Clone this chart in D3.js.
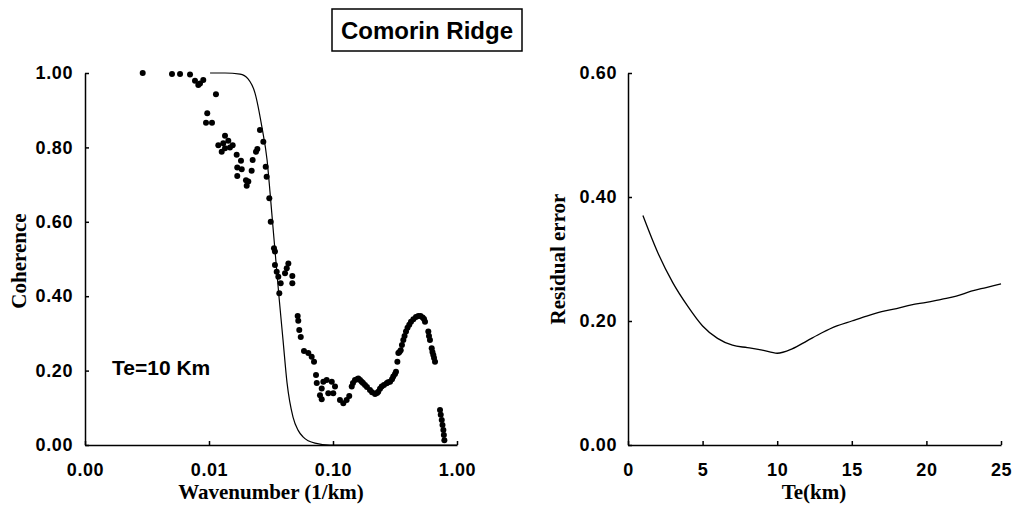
<!DOCTYPE html>
<html>
<head>
<meta charset="utf-8">
<script src="https://cdn.jsdelivr.net/npm/d3@7"></script>
<style>
html,body{margin:0;padding:0;background:#fff;}
svg{display:block;}
.tick text{font-family:"Liberation Sans",Arial,sans-serif;font-weight:bold;font-size:18px;letter-spacing:0.6px;fill:#000;}
.domain,.tick line{stroke:#000;stroke-width:1.5px;}
</style>
</head>
<body>
<svg id="chart" width="1016" height="507"></svg>
<script>
// ---- Left panel: observed coherence (wavenumber 1/km, coherence) ----
const obsK = [0.00292,0.00503,0.00584,0.00703,0.00771,0.00846,0.00899,0.00820,0.01138,0.00968,
  0.00946,0.01057,0.01346,0.01189,0.01303,0.01431,0.01552,0.01266,0.01346,0.01476,
  0.01672,0.01811,0.01690,0.01836,0.01690,0.01987,0.02075,0.02014,0.02250,0.02208,
  0.02393,0.02455,0.02576,0.02742,0.02866,0.02917,0.03064,0.03147,0.03343,0.03404,
  0.03404,0.03516,0.03622,0.03786,0.03690,0.04102,0.04236,0.04365,0.04699,0.04699,
  0.05190,0.05248,0.05346,0.05495,0.05834,0.06324,0.06730,0.07031,0.07295,0.07396,
  0.08356,0.08892,0.09772,0.1038,0.08110,0.07853,0.08110,0.09162,0.1005,0.1138,
  0.1211,0.1288,0.1352,0.1416,0.1504,0.1600,0.1703,0.1811,0.1986,0.2183,
  0.2317,0.2471,0.2711,0.2884,0.3063,0.3221,0.3304,0.3365,0.3516,0.3690,
  0.3878,0.4121,0.4446,0.4875,0.5284,0.5521,0.5869,0.6053,0.6252,0.6442,
  0.6650,0.7295,0.7534,0.7762,0.7907,
  0.1449,0.1563,0.1652,0.1746,0.1879,0.2065,0.2265,0.2393,0.2576,0.2779,
  0.2992,0.3162,0.3436,0.3597,0.3776,0.3990,0.4256,0.4667,0.5082,0.5420,
  0.5943,0.6339,0.6531,0.7396,0.7638,0.7834];
const obsCoh = [1.000,0.997,0.997,0.996,0.979,0.972,0.981,0.968,0.943,0.892,
  0.866,0.866,0.831,0.806,0.811,0.818,0.806,0.788,0.798,0.800,
  0.780,0.764,0.746,0.741,0.723,0.712,0.708,0.697,0.766,0.737,
  0.788,0.796,0.847,0.815,0.748,0.721,0.663,0.600,0.529,0.520,
  0.484,0.466,0.452,0.435,0.408,0.462,0.475,0.488,0.454,0.435,
  0.347,0.334,0.309,0.290,0.253,0.247,0.237,0.224,0.188,0.167,
  0.170,0.175,0.170,0.157,0.152,0.134,0.123,0.139,0.139,0.121,
  0.112,0.121,0.132,0.157,0.175,0.179,0.170,0.161,0.148,0.137,
  0.143,0.157,0.166,0.170,0.184,0.197,0.224,0.247,0.255,0.282,
  0.305,0.323,0.338,0.347,0.343,0.331,0.305,0.282,0.260,0.242,
  0.224,0.094,0.067,0.040,0.013,
  0.167,0.177,0.175,0.167,0.156,0.142,0.140,0.151,0.161,0.169,
  0.177,0.191,0.250,0.269,0.293,0.315,0.331,0.344,0.347,0.339,
  0.293,0.250,0.234,0.081,0.054,0.027];

// predicted coherence for Te = 10 km
const modelK   = [0.0102,0.01346,0.0178,0.02065,0.0235,0.0267,0.0294,0.0311,0.0328,0.03469,0.0367,0.03954,0.0426,0.0476,0.05222,0.0573,0.0716,0.0946,1.0];
const modelCoh = [1.000,1.000,0.997,0.984,0.946,0.855,0.766,0.677,0.586,0.492,0.398,0.282,0.167,0.075,0.040,0.022,0.005,0.000,0.000];

const leftXTicks = [0.001,0.01,0.1,1];
const leftXTickLabels = ["0.00","0.01","0.10","1.00"];
const leftYTicks = [0,0.2,0.4,0.6,0.8,1.0];

// ---- Right panel: residual error vs Te ----
const teValues = [1,2,3,4,5,6,7,8,9,10,11,12,13,14,15,16,17,18,19,20,21,22,23,24,25];
const residual = [0.370,0.310,0.262,0.224,0.192,0.172,0.161,0.157,0.153,0.148,0.155,0.168,0.181,0.192,0.200,0.208,0.215,0.220,0.226,0.230,0.235,0.240,0.248,0.254,0.260];
const rightXTicks = [0,5,10,15,20,25];
const rightYTicks = [0,0.2,0.4,0.6];

const svg = d3.select("#chart");
svg.append("rect").attr("width",1016).attr("height",507).attr("fill","#fff");

// Title
svg.append("rect").attr("x",332).attr("y",9).attr("width",190).attr("height",42)
  .attr("fill","#fff").attr("stroke","#000").attr("stroke-width",1.5);
svg.append("text").attr("x",427).attr("y",39).attr("text-anchor","middle")
  .attr("font-family","Liberation Sans, Arial, sans-serif").attr("font-weight","bold")
  .attr("font-size",24).text("Comorin Ridge");

// ---- Left panel ----
const xL = d3.scaleLog().domain([0.001,1]).range([85,457]);
const yL = d3.scaleLinear().domain([0,1]).range([445,73]);

svg.append("g").attr("transform","translate(0,445)")
  .call(d3.axisBottom(xL).tickValues(leftXTicks).tickFormat((d,i)=>leftXTickLabels[i])
    .tickSizeInner(-4).tickSizeOuter(0).tickPadding(18));
svg.append("g").attr("transform","translate(85,0)")
  .call(d3.axisLeft(yL).tickValues(leftYTicks).tickFormat(d3.format(".2f"))
    .tickSizeInner(-4).tickSizeOuter(0).tickPadding(12));

svg.append("path").datum(modelK.map((k,i)=>[k,modelCoh[i]]))
  .attr("fill","none").attr("stroke","#000").attr("stroke-width",1.2)
  .attr("d", d3.line().x(d=>xL(d[0])).y(d=>yL(d[1])).curve(d3.curveMonotoneX));

svg.append("g").selectAll("circle").data(obsK.map((k,i)=>[k,obsCoh[i]])).join("circle")
  .attr("cx",d=>xL(d[0])).attr("cy",d=>yL(d[1])).attr("r",3).attr("fill","#000");

svg.append("text").attr("x",112).attr("y",375)
  .attr("font-family","Liberation Sans, Arial, sans-serif").attr("font-weight","bold")
  .attr("font-size",21).text("Te=10 Km");

svg.append("text").attr("x",271).attr("y",499).attr("text-anchor","middle")
  .attr("font-family","Liberation Serif, Times New Roman, serif").attr("font-weight","bold")
  .attr("font-size",21).text("Wavenumber (1/km)");
svg.append("text").attr("transform","translate(26,261) rotate(-90)").attr("text-anchor","middle")
  .attr("font-family","Liberation Serif, Times New Roman, serif").attr("font-weight","bold")
  .attr("font-size",21).text("Coherence");

// ---- Right panel ----
const xR = d3.scaleLinear().domain([0,25]).range([628,1001]);
const yR = d3.scaleLinear().domain([0,0.6]).range([445,73]);

svg.append("g").attr("transform","translate(0,445)")
  .call(d3.axisBottom(xR).tickValues(rightXTicks).tickFormat(d3.format("d"))
    .tickSizeInner(-4).tickSizeOuter(0).tickPadding(18));
svg.append("g").attr("transform","translate(628,0)")
  .call(d3.axisLeft(yR).tickValues(rightYTicks).tickFormat(d3.format(".2f"))
    .tickSizeInner(-4).tickSizeOuter(0).tickPadding(11));

svg.append("path").datum(teValues.map((t,i)=>[t,residual[i]]))
  .attr("fill","none").attr("stroke","#000").attr("stroke-width",1.3)
  .attr("d", d3.line().x(d=>xR(d[0])).y(d=>yR(d[1])).curve(d3.curveMonotoneX));

svg.append("text").attr("x",814).attr("y",499).attr("text-anchor","middle")
  .attr("font-family","Liberation Serif, Times New Roman, serif").attr("font-weight","bold")
  .attr("font-size",21).text("Te(km)");
svg.append("text").attr("transform","translate(565,259) rotate(-90)").attr("text-anchor","middle")
  .attr("font-family","Liberation Serif, Times New Roman, serif").attr("font-weight","bold")
  .attr("font-size",21).text("Residual error");
</script>
</body>
</html>
